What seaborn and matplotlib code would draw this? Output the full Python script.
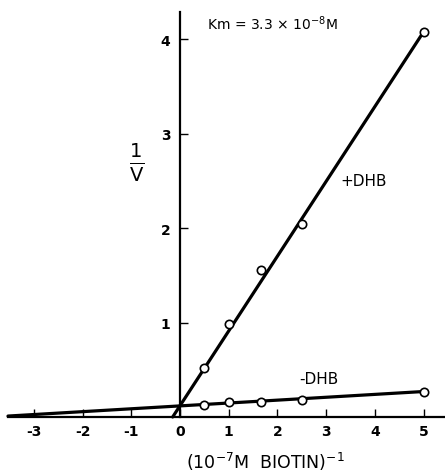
import matplotlib
matplotlib.use("Agg")
import matplotlib.pyplot as plt
import seaborn as sns
import pandas as pd
import numpy as np

# Data
x_plus = [0.5, 1.0, 1.67, 2.5, 5.0]
y_plus = [0.52, 0.99, 1.56, 2.04, 4.08]
x_minus = [0.5, 1.0, 1.67, 2.5, 5.0]
y_minus = [0.13, 0.16, 0.16, 0.18, 0.27]
# Fitted lines (endpoints of drawn regression lines)
line_plus_x = [-0.15, 5.0]
line_plus_y = [0.0, 4.08]
line_minus_x = [-3.53, 5.0]
line_minus_y = [0.01, 0.27]
xticks = [-3, -2, -1, 0, 1, 2, 3, 4, 5]
yticks = [1, 2, 3, 4]

sns.set_theme(style="ticks")
plt.rcParams['font.family'] = ['DejaVu Sans']
plt.rcParams['axes.unicode_minus'] = False
plt.rcParams['mathtext.default'] = 'regular'

fig = plt.figure(figsize=(4.45, 4.77), dpi=100)
ax = fig.add_axes([8/445, 1 - 418/477, 1 - 8/445, (418 - 13)/477])

lines = pd.concat([
    pd.DataFrame({"x": line_plus_x, "y": line_plus_y, "s": "+DHB"}),
    pd.DataFrame({"x": line_minus_x, "y": line_minus_y, "s": "-DHB"}),
])
pts = pd.concat([
    pd.DataFrame({"x": x_plus, "y": y_plus, "s": "+DHB"}),
    pd.DataFrame({"x": x_minus, "y": y_minus, "s": "-DHB"}),
])

sns.lineplot(data=lines, x="x", y="y", units="s", estimator=None, color="black",
             linewidth=2.3, ax=ax, clip_on=False, zorder=3)
sns.scatterplot(data=pts, x="x", y="y", ax=ax, marker="o", s=36,
                facecolor="white", edgecolor="black", linewidth=1.2,
                clip_on=False, zorder=4)

ax.set_xlim(-3.53, 5.44)
ax.set_ylim(0, 4.29)

for side in ["top", "right"]:
    ax.spines[side].set_visible(False)
ax.spines["left"].set_position(("data", 0))
ax.spines["left"].set_linewidth(1.6)
ax.spines["bottom"].set_linewidth(1.6)
ax.spines["left"].set_color("black")
ax.spines["bottom"].set_color("black")

ax.set_xticks(xticks)
ax.set_xticklabels([str(t) for t in xticks])
ax.set_yticks(yticks)
ax.set_yticklabels([str(t) for t in yticks])
ax.tick_params(axis="x", direction="in", length=6, width=1.0, pad=5,
               labelsize=10, colors="black")
ax.tick_params(axis="y", direction="in", length=6, width=1.0, pad=7,
               labelsize=10, colors="black")
for lab in ax.get_xticklabels() + ax.get_yticklabels():
    lab.set_fontweight("bold")

ax.set_xlabel(r"(10$^{-7}$M  BIOTIN)$^{-1}$", fontsize=12.5, color="black")
ax.xaxis.set_label_coords((265 - 8) / (445 - 8), -33 / 405)
ax.set_ylabel("")

ax.text(-0.88, 2.7, r"$\frac{1}{V}$", fontsize=20,
        ha="center", va="center", color="black")
ax.text(0.55, 4.18, r"Km = 3.3 × 10$^{-8}$M", fontsize=10, ha="left",
        va="center", color="black")
ax.text(3.3, 2.5, "+DHB", fontsize=11, ha="left", va="center", color="black")
ax.text(2.45, 0.41, "-DHB", fontsize=11, ha="left", va="center", color="black")

fig.savefig("out.png", dpi=100)
